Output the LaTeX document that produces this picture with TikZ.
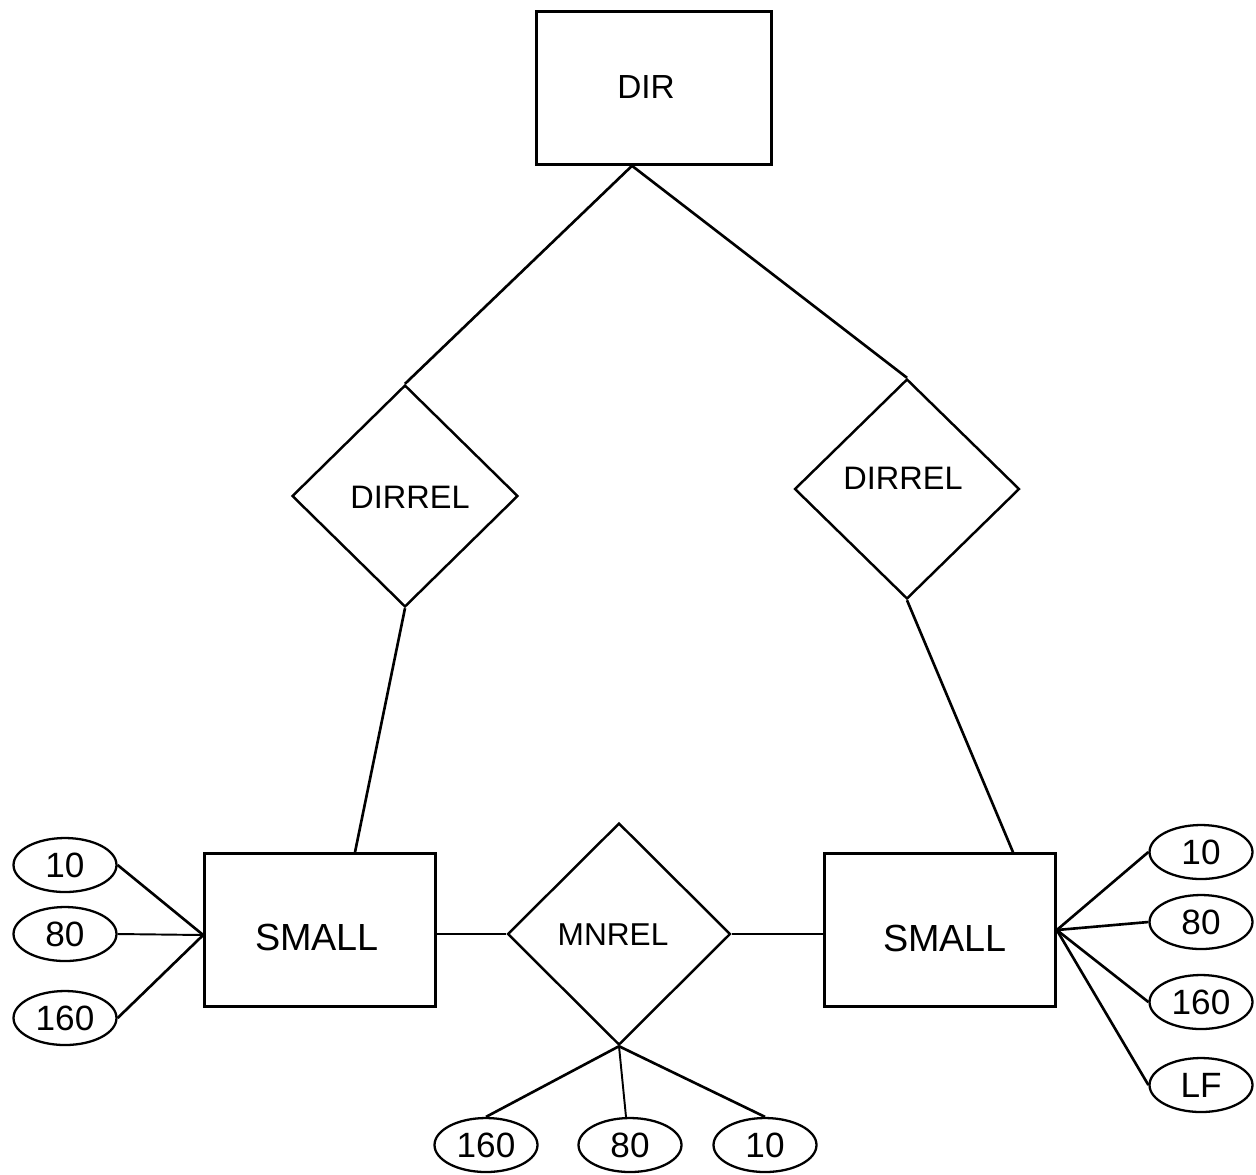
\documentclass[tikz,border=0pt]{standalone}
\usepackage{fontspec}
\setmainfont{Liberation Sans}
\usetikzlibrary{shapes.geometric,calc}
\begin{document}
\begin{tikzpicture}[x=0.02cm,y=-0.02cm,
  ent/.style={draw,line width=1.5pt,rectangle,minimum width=4.62cm,minimum height=3.06cm,inner sep=0pt},
  rel/.style={draw,line width=1.4pt,diamond,inner sep=0pt},
  attr/.style={draw,line width=1.3pt,ellipse,minimum width=2.06cm,minimum height=1.08cm,inner sep=0pt,font=\fontsize{20}{20}\selectfont},
  lbl/.style={inner sep=0pt},
  conn/.style={line width=1.5pt},
  thin conn/.style={line width=1.1pt}]
\useasboundingbox (0,0) rectangle (1256,1174);
% entities
\node[ent,minimum width=4.7cm] (dir) at (654,88) {};
\node[lbl,font=\fontsize{19}{19}\selectfont] (dirt) at (646,87) {DIR};
\node[ent] (sl) at (320,930) {};
\node[lbl,font=\fontsize{21.5}{21.5}\selectfont] (slt) at (317,937) {SMALL};
\node[ent] (sr) at (940,930) {};
\node[lbl,font=\fontsize{21.5}{21.5}\selectfont] (srt) at (945,938) {SMALL};
% relationships
\node[rel,minimum width=4.52cm,minimum height=4.44cm] (d1) at (405,496) {};
\node[lbl,font=\fontsize{18.5}{18.5}\selectfont] (d1t) at (410,497) {DIRREL};
\node[rel,minimum width=4.5cm,minimum height=4.4cm] (d2) at (907,489) {};
\node[lbl,font=\fontsize{18.5}{18.5}\selectfont] (d2t) at (903,478) {DIRREL};
\node[rel,minimum width=4.46cm,minimum height=4.44cm] (mn) at (619,934) {};
\node[lbl,font=\fontsize{18}{18}\selectfont] (mnt) at (613,935) {MNREL};
% attributes left
\node[attr] (l10) at (65,865) {10};
\node[attr] (l80) at (65,934) {80};
\node[attr] (l160) at (65,1018) {160};
% attributes right
\node[attr] (r10) at (1201,852) {10};
\node[attr] (r80) at (1201,922) {80};
\node[attr] (r160) at (1201,1002) {160};
\node[attr] (rlf) at (1201,1085) {LF};
% attributes bottom
\node[attr] (b160) at (486,1145) {160};
\node[attr] (b80) at (630,1145) {80};
\node[attr] (b10) at (765,1145) {10};
% hubs
\coordinate (dirapex) at ($(dir.south)+(-22,0)$);
\coordinate (lhub) at ($(sl.west)+(0,5)$);
\coordinate (rhub) at ($(sr.east)+(0,0)$);
\coordinate (sltop) at ($(sl.north)+(35,0)$);
\coordinate (srtop) at ($(sr.north)+(73,0)$);
\coordinate (b80top) at ($(b80.north)+(-4,0)$);
% connectors
\draw[conn] (dirapex) -- (d1.north);
\draw[conn] (dirapex) -- (d2.north);
\draw[conn] (d1.south) -- (sltop);
\draw[conn] (d2.south) -- (srtop);
\draw[conn] (sl.east |- mn.west) -- (mn.west);
\draw[conn] (mn.east) -- (sr.west |- mn.east);
\draw[conn] (l10.east) -- (lhub);
\draw[thin conn] (l80.east) -- (lhub);
\draw[conn] (l160.east) -- (lhub);
\draw[conn] (rhub) -- (r10.west);
\draw[conn] (rhub) -- (r80.west);
\draw[conn] (rhub) -- (r160.west);
\draw[conn] (rhub) -- (rlf.west);
\draw[conn] (mn.south) -- (b160.north);
\draw[thin conn] (mn.south) -- (b80top);
\draw[conn] (mn.south) -- (b10.north);
\end{tikzpicture}
\end{document}
